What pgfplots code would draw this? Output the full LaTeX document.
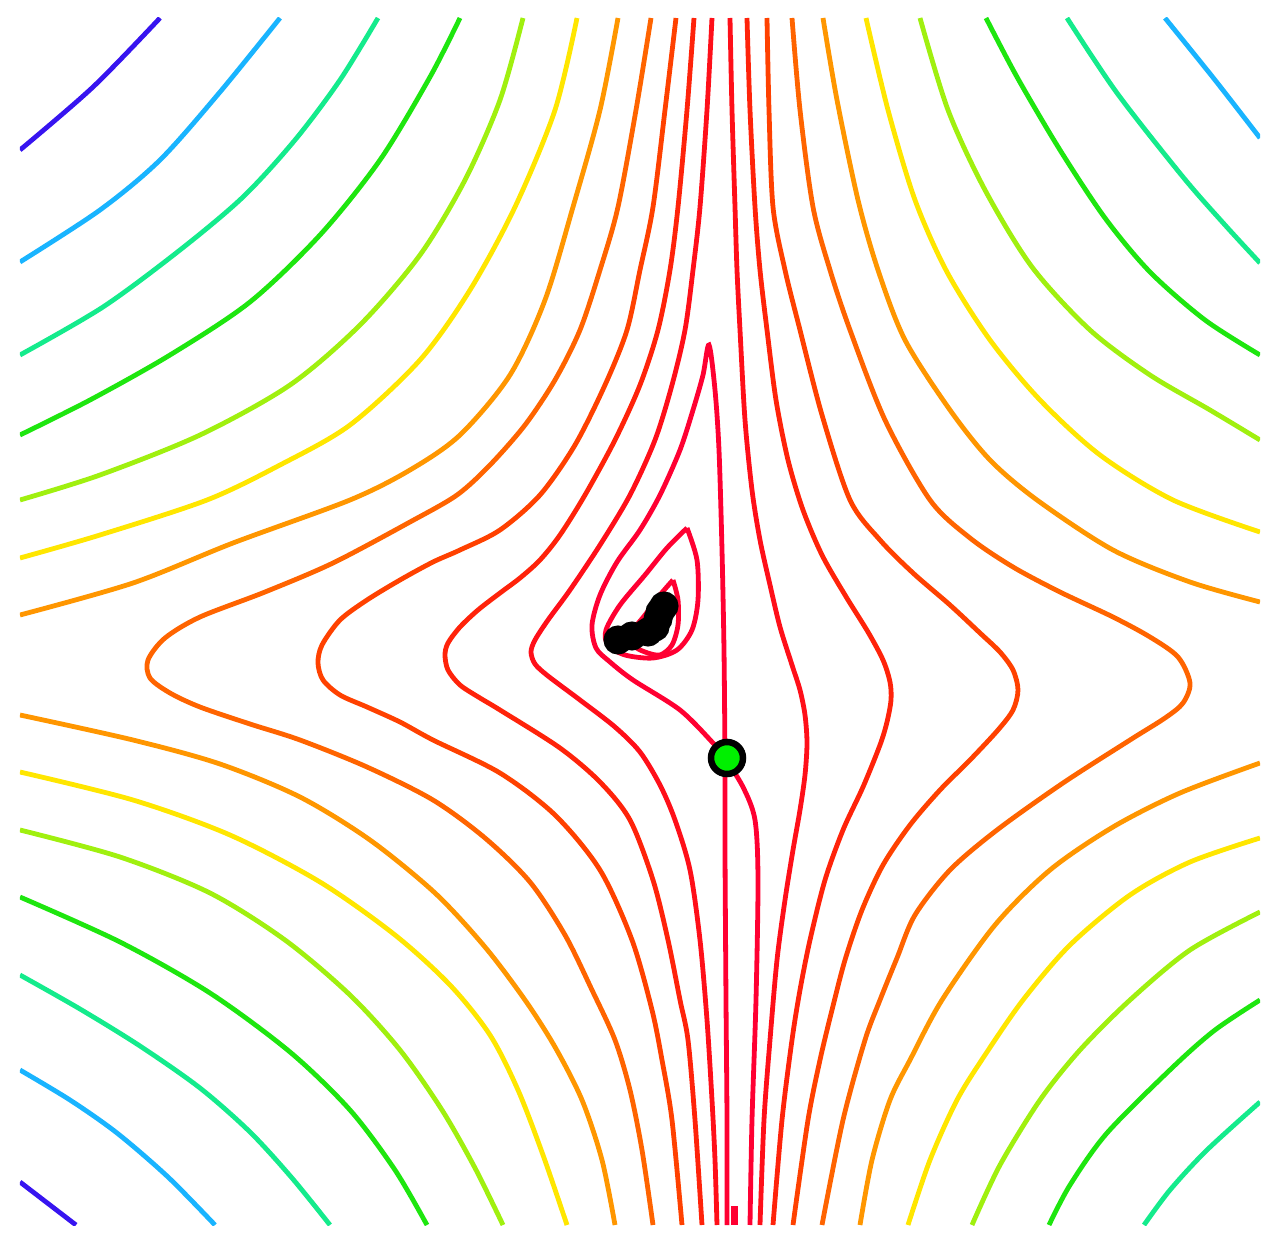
\documentclass[border=0pt]{standalone}
\usepackage{pgfplots}
\pgfplotsset{compat=1.18}
\definecolor{cviol}{RGB}{55,20,240}
\definecolor{cblue}{RGB}{25,180,255}
\definecolor{ccyan}{RGB}{20,235,140}
\definecolor{cgreen}{RGB}{30,230,15}
\definecolor{cyg}{RGB}{160,240,15}
\definecolor{cyel}{RGB}{255,230,0}
\definecolor{corg}{RGB}{255,150,0}
\definecolor{cor2}{RGB}{255,100,0}
\definecolor{cor3}{RGB}{255,65,0}
\definecolor{cred}{RGB}{255,35,10}
\definecolor{cred2}{RGB}{255,15,25}
\definecolor{ccrim}{RGB}{255,0,50}
\definecolor{cdot}{RGB}{0,240,0}
\pgfplotsset{cl/.style={line width=0.48mm, smooth, tension=0.5, no markers}}
\begin{document}
\begin{tikzpicture}
\begin{axis}[hide axis, scale only axis, width=12.4cm, height=12.07cm,
  xmin=20, xmax=1260, ymin=18, ymax=1225, y dir=reverse, clip=true]
% top-left corner
\addplot[cl, cviol] coordinates {(20,150) (93,87) (160,18)};
\addplot[cl, cblue] coordinates {(20,262) (100,210) (160,160) (220,92) (280,18)};
\addplot[cl, ccyan] coordinates {(20,355) (103,307) (180,250) (243,197) (295,140) (340,80) (378,18)};
\addplot[cl, cgreen] coordinates {(20,435) (90,400) (170,355) (250,302) (320,235) (380,160) (430,77) (460,18)};
\addplot[cl, cyg] coordinates {(20,500) (100,475) (200,435) (290,385) (360,325) (420,255) (465,180) (500,100) (523,18)};
\addplot[cl, cyel] coordinates {(20,558) (100,535) (207,500) (280,465) (350,425) (420,360) (470,290) (515,207) (555,110) (577,18)};
\addplot[cl, corg] coordinates {(20,615) (133,583) (233,543) (350,500) (410,470) (460,435) (510,375) (545,300) (573,207) (600,110) (618,18)};
% top-right corner
\addplot[cl, corg] coordinates {(823,18) (837,100) (858,200) (878,270) (905,340) (950,410) (990,460) (1037,500) (1113,550) (1190,582) (1260,602)};
\addplot[cl, cyel] coordinates {(866,18) (888,110) (915,200) (947,272) (990,340) (1040,400) (1100,455) (1173,500) (1260,532)};
\addplot[cl, cyg] coordinates {(920,18) (948,110) (985,190) (1032,267) (1090,330) (1150,375) (1210,410) (1260,440)};
\addplot[cl, cgreen] coordinates {(986,18) (1017,77) (1060,150) (1105,218) (1150,272) (1205,320) (1260,355)};
\addplot[cl, ccyan] coordinates {(1067,18) (1117,93) (1183,177) (1225,225) (1260,263)};
\addplot[cl, cblue] coordinates {(1165,18) (1215,80) (1260,138)};
% bottom-right corner
\addplot[cl, corg] coordinates {(1260,763) (1180,793) (1113,827) (1050,870) (995,925) (942,1000) (910,1060) (890,1100) (872,1160) (860,1225)};
\addplot[cl, cyel] coordinates {(1260,838) (1190,862) (1130,895) (1070,945) (1023,1000) (985,1055) (957,1100) (930,1160) (908,1225)};
\addplot[cl, cyg] coordinates {(1260,912) (1190,950) (1130,1000) (1080,1050) (1040,1100) (1000,1165) (972,1225)};
\addplot[cl, cgreen] coordinates {(1260,1000) (1215,1030) (1173,1067) (1107,1133) (1070,1185) (1049,1225)};
\addplot[cl, ccyan] coordinates {(1260,1102) (1207,1150) (1170,1190) (1144,1225)};
% bottom-left corner
\addplot[cl, corg] coordinates {(20,715) (133,740) (220,764) (300,797) (370,840) (435,893) (485,947) (525,1000) (555,1047) (582,1100) (602,1160) (615,1225)};
\addplot[cl, cyel] coordinates {(20,772) (133,800) (230,835) (320,882) (395,935) (450,985) (490,1035) (518,1090) (543,1155) (567,1225)};
\addplot[cl, cyg] coordinates {(20,830) (120,857) (210,893) (285,940) (350,995) (400,1050) (442,1110) (475,1168) (503,1225)};
\addplot[cl, cgreen] coordinates {(20,897) (120,942) (210,993) (290,1052) (350,1110) (395,1170) (427,1225)};
\addplot[cl, ccyan] coordinates {(20,975) (80,1009) (140,1046) (200,1088) (250,1132) (292,1178) (330,1225)};
\addplot[cl, cblue] coordinates {(20,1070) (70,1100) (117,1133) (168,1177) (215,1225)};
\addplot[cl, cviol] coordinates {(20,1182) (76,1225)};
% left lobes
\addplot[cl, cor2] coordinates {(651,18) (636,110) (618,207) (600,270) (580,330) (555,380) (525,425) (490,465) (457,495) (410,522) (333,563) (265,592) (200,617) (165,638) (148,660) (150,678) (170,693) (200,707) (250,724) (300,740) (367,767) (433,800) (485,838) (530,882) (565,935) (592,990) (615,1040) (630,1090) (642,1150) (653,1225)};
\addplot[cl, cor3] coordinates {(676,18) (665,110) (653,207) (640,270) (627,330) (605,385) (575,445) (540,495) (500,530) (460,550) (433,562) (400,580) (367,600) (340,620) (322,645) (318,663) (323,680) (340,695) (367,707) (400,722) (433,740) (500,773) (555,815) (600,870) (632,940) (652,1010) (662,1060) (672,1120) (682,1225)};
\addplot[cl, cred] coordinates {(694,18) (687,110) (678,207) (670,270) (658,330) (640,385) (615,440) (585,495) (560,535) (540,560) (520,578) (500,593) (478,610) (460,627) (448,643) (445,655) (448,670) (460,685) (480,698) (500,710) (560,748) (600,782) (630,820) (653,880) (668,940) (680,1000) (688,1040) (695,1120) (702,1225)};
\addplot[cl, cred2] coordinates {(712,18) (707,110) (700,207) (693,270) (685,330) (672,385) (655,440) (630,495) (600,545) (570,590) (548,620) (535,640) (531,652) (535,664) (548,676) (580,700) (615,727) (640,752) (660,785) (675,820) (690,870) (700,940) (707,1020) (712,1100) (715,1160) (717,1225)};
% right lobes
\addplot[cl, cred2] coordinates {(730,18) (732,110) (735,207) (737,270) (740,330) (745,420) (752,490) (760,540) (770,585) (780,627) (792,665) (800,690) (805,715) (807,743) (805,775) (800,810) (793,850) (785,900) (777,960) (770,1040) (764,1120) (760,1225)};
\addplot[cl, cred] coordinates {(747,18) (750,110) (755,207) (760,270) (767,330) (776,400) (788,460) (803,510) (822,555) (845,595) (868,632) (883,660) (890,682) (891,700) (887,722) (880,745) (863,787) (843,830) (825,880) (810,940) (800,990) (792,1040) (782,1120) (773,1225)};
\addplot[cl, cor3] coordinates {(767,18) (769,110) (773,207) (785,270) (800,330) (822,415) (850,500) (880,540) (913,573) (950,605) (980,633) (1000,652) (1013,670) (1018,690) (1013,710) (998,730) (970,760) (940,790) (910,825) (883,865) (862,910) (845,960) (832,1010) (820,1060) (808,1120) (793,1225)};
\addplot[cl, cor2] coordinates {(792,18) (800,110) (813,207) (830,270) (850,330) (885,420) (930,500) (970,538) (1013,567) (1060,592) (1113,617) (1150,637) (1178,657) (1190,683) (1183,703) (1165,718) (1130,740) (1063,783) (997,830) (950,870) (915,915) (897,958) (880,1000) (865,1040) (843,1120) (822,1225)};
% saddle contour
\addplot[cl, ccrim] coordinates {(725,758) (724,650) (722,550) (719,450) (715,390) (709,345) (703,375) (693,410) (680,450) (660,495) (640,530) (617,562) (600,595) (592,625) (596,648) (610,662) (633,680) (680,710) (713,743) (725,758)};
\addplot[cl, ccrim] coordinates {(725,758) (725,850) (726,1000) (727,1120) (727,1225)};
\addplot[cl, ccrim] coordinates {(725,758) (743,787) (755,820) (758,880) (756,1000) (752,1120) (750,1225)};
\addplot[ccrim, line width=0.7mm, sharp plot, no markers] coordinates {(734,1206) (734,1225)};
% closed loops around the minimum
\addplot[cl, ccrim] coordinates {(687,528) (697,560) (698,600) (692,630) (677,650) (653,658) (625,655) (608,645) (606,630) (620,605) (645,575) (667,548) (687,528)};
\addplot[cl, ccrim] coordinates {(673,580) (678,600) (678,625) (672,645) (660,655) (645,652) (633,645) (632,632) (645,615) (660,595) (673,580)};
% path
\addplot[black, line width=0.9mm, sharp plot, mark=*, mark size=1.0mm] coordinates {(618,640) (632,636) (648,632) (655,627) (658,619) (660,612) (664,606)};
\addplot[only marks, mark=*, mark size=1.6mm, draw=black, fill=cdot, line width=0.65mm] coordinates {(727,758)};
\end{axis}
\path ([shift={(-0.2cm,-0.22cm)}]current axis.south west) rectangle ([shift={(0.18cm,0.18cm)}]current axis.north east);
\end{tikzpicture}
\end{document}
